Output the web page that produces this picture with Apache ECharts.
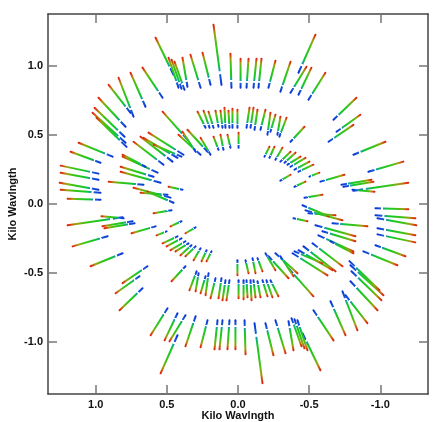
<!DOCTYPE html>
<html>
<head>
<meta charset="utf-8">
<script src="https://cdn.jsdelivr.net/npm/echarts@6/dist/echarts.min.js"></script>
<style>
  html, body { margin: 0; padding: 0; background: #fff; }
  #uvplot { width: 436px; height: 422px; }
</style>
</head>
<body>
<div id="uvplot"></div>
<script>
// uv tracks, one half of the plane (kilo wavelengths); the other half is the conjugate (-u,-v)
// In = lowest frequency end (blue), Out = highest frequency end (red)
var uIn = [
  0.453, 0.418, 0.397, 0.376, 0.355, 0.263, 0.193, 0.116, 0.530, 0.650,
  0.734, 0.755, 0.790, 0.790, 0.797, 0.783, 0.881, 0.966, 0.980, 0.980,
  0.980, 0.966, 0.966, 0.046, -0.018, -0.060, -0.109, -0.144, -0.214, -0.298,
  -0.369, -0.425, -0.425, -0.495, -0.671, -0.692, -0.636, -0.811, -0.916, -0.811,
  -0.727, -0.741,
  0.228, 0.200, 0.172, 0.137, 0.109, 0.060, 0.004, -0.060, -0.088, -0.116,
  -0.158, -0.207, -0.228, -0.277, -0.291, -0.369, 0.039, 0.088,
  0.263, 0.214, 0.193, 0.137, 0.102, 0.053, -0.004, 0.355, 0.298, -0.186,
  -0.221, -0.263, -0.298, -0.327, -0.348, -0.369, -0.397, -0.425, -0.502, -0.298,
  -0.397, -0.467, -0.579, -0.804,
  0.460, 0.425, 0.383, 0.523, 0.397, 0.565, 0.593, 0.544, 0.664, 0.474,
  0.453, 0.390, 0.495, 0.650
];
var vIn = [
  0.937, 0.843, 0.835, 0.828, 0.850, 0.843, 0.864, 0.864, 0.770, 0.705,
  0.633, 0.661, 0.560, 0.444, 0.487, 0.414, 0.343, 0.299, 0.220, 0.176,
  0.104, 0.082, 0.031, 0.843, 0.843, 0.843, 0.843, 0.843, 0.843, 0.814,
  0.806, 0.792, 0.951, 0.756, 0.611, 0.524, 0.451, 0.357, 0.234, 0.096,
  0.140, 0.125,
  0.553, 0.553, 0.553, 0.560, 0.553, 0.553, 0.553, 0.553, 0.553, 0.538,
  0.538, 0.502, 0.524, 0.502, 0.488, 0.451, 0.553, 0.553,
  0.357, 0.379, 0.357, 0.393, 0.393, 0.408, 0.408, 0.466, 0.379, 0.343,
  0.335, 0.321, 0.307, 0.299, 0.285, 0.270, 0.249, 0.234, 0.198, 0.169,
  0.125, 0.046, 0.162, 0.104,
  0.307, 0.335, 0.357, 0.285, 0.343, 0.227, 0.198, 0.154, 0.140, 0.046,
  0.009, 0.104, 0.067, 0.270
];
var uOut = [
  0.579, 0.488, 0.467, 0.446, 0.390, 0.334, 0.249, 0.172, 0.671, 0.755,
  0.839, 0.909, 0.980, 1.022, 1.008, 0.994, 1.120, 1.176, 1.246, 1.246,
  1.253, 1.246, 1.197, 0.053, -0.018, -0.074, -0.130, -0.165, -0.263, -0.369,
  -0.481, -0.516, -0.544, -0.614, -0.832, -0.860, -0.811, -1.036, -1.162, -1.197,
  -0.938, -0.952,
  0.284, 0.242, 0.207, 0.158, 0.123, 0.067, 0.004, -0.081, -0.109, -0.137,
  -0.193, -0.228, -0.263, -0.298, -0.341, -0.467, 0.039, 0.095,
  0.418, 0.355, 0.263, 0.172, 0.123, 0.074, -0.004, 0.530, 0.390, -0.221,
  -0.256, -0.312, -0.369, -0.404, -0.439, -0.474, -0.502, -0.530, -0.572, -0.369,
  -0.474, -0.593, -0.748, -0.959,
  0.685, 0.664, 0.629, 0.734, 0.593, 0.811, 0.825, 0.825, 0.909, 0.734,
  0.636, 0.488, 0.685, 0.811
];
var vOut = [
  1.205, 1.060, 1.046, 1.031, 1.060, 1.082, 1.096, 1.299, 0.988, 0.951,
  0.915, 0.864, 0.770, 0.661, 0.697, 0.625, 0.444, 0.379, 0.278, 0.227,
  0.154, 0.104, 0.038, 1.089, 1.053, 1.053, 1.053, 1.053, 1.038, 1.031,
  0.995, 0.988, 1.227, 0.951, 0.770, 0.647, 0.574, 0.451, 0.307, 0.154,
  0.176, 0.162,
  0.669, 0.676, 0.669, 0.676, 0.676, 0.676, 0.683, 0.698, 0.698, 0.683,
  0.683, 0.661, 0.647, 0.633, 0.625, 0.560, 0.691, 0.698,
  0.502, 0.538, 0.480, 0.488, 0.502, 0.502, 0.517, 0.669, 0.524, 0.415,
  0.415, 0.408, 0.379, 0.372, 0.343, 0.335, 0.307, 0.285, 0.227, 0.212,
  0.162, 0.067, 0.212, 0.089,
  0.488, 0.480, 0.517, 0.451, 0.430, 0.343, 0.270, 0.234, 0.162, 0.118,
  0.089, 0.125, 0.082, 0.357
];
var tickValues = [-1, -0.5, 0, 0.5, 1];

var segs = [];
for (var i = 0; i < uIn.length; i++) {
  segs.push([uIn[i], vIn[i], uOut[i], vOut[i]]);
  segs.push([-uIn[i], -vIn[i], -uOut[i], -vOut[i]]);
}

// colour along frequency: blue -> (small flagged gap) -> green -> red
var stops = [
  { offset: 0, color: '#0c34d8' },
  { offset: 0.17, color: '#1860d8' },
  { offset: 0.185, color: 'rgba(255,255,255,0)' },
  { offset: 0.215, color: 'rgba(255,255,255,0)' },
  { offset: 0.23, color: '#1898b8' },
  { offset: 0.34, color: '#10c82c' },
  { offset: 0.68, color: '#40c414' },
  { offset: 0.84, color: '#a0a010' },
  { offset: 0.94, color: '#d8480c' },
  { offset: 1, color: '#dc240c' }
];

var frame = { show: true, onZero: false, lineStyle: { color: '#444', width: 1.5 } };
var ticks = { show: true, inside: true, length: 9, customValues: tickValues, lineStyle: { color: '#777', width: 1.5 } };
var labels = {
  customValues: tickValues, margin: 5, color: '#111', fontSize: 11, fontWeight: 'bold',
  fontFamily: 'Liberation Sans, Arial, sans-serif',
  formatter: function (v) { return v.toFixed(1); }
};
var nameStyle = { fontSize: 11, fontWeight: 'bold', color: '#111', fontFamily: 'Liberation Sans, Arial, sans-serif' };

var chart = echarts.init(document.getElementById('uvplot'));
chart.setOption({
  animation: false,
  grid: { left: 48, right: 8, top: 14, bottom: 28, containLabel: false, outerBoundsMode: 'none' },
  xAxis: [
    { type: 'value', position: 'bottom', inverse: true, min: -1.335, max: 1.335,
      name: 'Kilo Wavlngth', nameLocation: 'middle', nameGap: 16, nameMoveOverlap: false,
      nameTextStyle: nameStyle,
      axisLine: frame, axisTick: ticks, axisLabel: labels, splitLine: { show: false } },
    { type: 'value', position: 'top', inverse: true, min: -1.335, max: 1.335,
      axisLine: frame, axisTick: ticks, axisLabel: { show: false }, splitLine: { show: false } }
  ],
  yAxis: [
    { type: 'value', position: 'left', min: -1.377, max: 1.377,
      name: 'Kilo Wavlngth', nameLocation: 'middle', nameGap: 30, nameMoveOverlap: false,
      nameTextStyle: nameStyle,
      axisLine: frame, axisTick: ticks, axisLabel: labels, splitLine: { show: false } },
    { type: 'value', position: 'right', min: -1.377, max: 1.377,
      axisLine: frame, axisTick: ticks, axisLabel: { show: false }, splitLine: { show: false } }
  ],
  series: [{
    type: 'custom',
    xAxisIndex: 0,
    yAxisIndex: 0,
    clip: true,
    encode: { x: [0, 2], y: [1, 3] },
    data: segs,
    renderItem: function (params, api) {
      var p0 = api.coord([api.value(0), api.value(1)]);
      var p1 = api.coord([api.value(2), api.value(3)]);
      return {
        type: 'line',
        shape: { x1: p0[0], y1: p0[1], x2: p1[0], y2: p1[1] },
        style: {
          stroke: new echarts.graphic.LinearGradient(p0[0], p0[1], p1[0], p1[1], stops, true),
          lineWidth: 2,
          lineCap: 'round'
        }
      };
    }
  }]
});
</script>
</body>
</html>
